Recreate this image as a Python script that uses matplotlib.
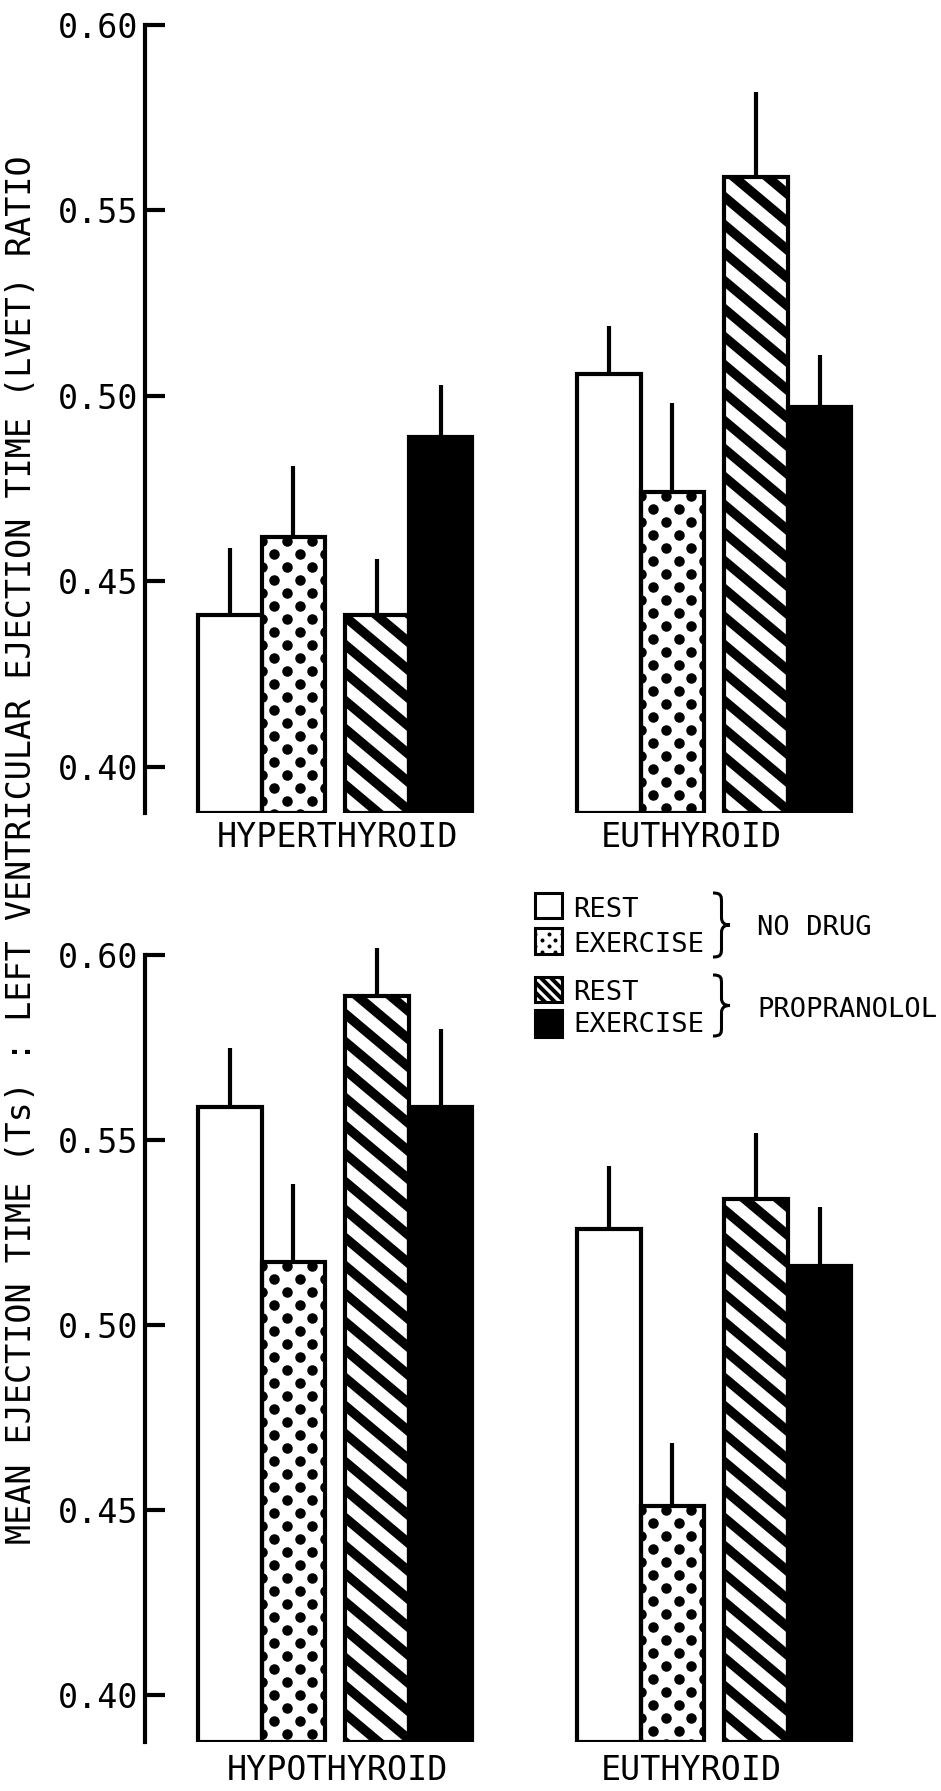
import numpy as np
import matplotlib
matplotlib.use('Agg')
import matplotlib.pyplot as plt
from matplotlib.patches import Rectangle, PathPatch
from matplotlib.path import Path
from matplotlib.lines import Line2D
from matplotlib.transforms import IdentityTransform

# values: mean ratio and upper error (SE)
conditions = ['REST', 'EXERCISE', 'REST', 'EXERCISE']
drugs = ['NO DRUG', 'PROPRANOLOL']

top_groups = ['HYPERTHYROID', 'EUTHYROID']
top_means = [[0.441, 0.462, 0.441, 0.489],
             [0.506, 0.474, 0.559, 0.497]]
top_sem = [[0.018, 0.019, 0.015, 0.014],
           [0.013, 0.024, 0.023, 0.014]]

bottom_groups = ['HYPOTHYROID', 'EUTHYROID']
bottom_means = [[0.559, 0.517, 0.589, 0.559],
                [0.526, 0.451, 0.534, 0.516]]
bottom_sem = [[0.016, 0.021, 0.013, 0.021],
              [0.017, 0.017, 0.018, 0.016]]

yticks = [0.40, 0.45, 0.50, 0.55, 0.60]
ylabel = 'MEAN EJECTION TIME (Ts) : LEFT VENTRICULAR EJECTION TIME (LVET) RATIO'

#############################################

W, H, DPI = 941, 1791, 100
mono = 'DejaVu Sans Mono'
LW = 3.0

face_colors = ['white', 'white', 'white', 'black']
patterns = [None, 'dots', 'stripes', None]
bar_offsets = [0, 1, 2.32, 3.32]
group_starts = [0, 5.97]
label_offsets = [2.2, 1.8]

ppu = 63.5  # pixels per bar width
XMIN = -(198 - 145) / ppu
XMAX = XMIN + 796 / ppu


def clip_to(owner, artist, patch):
    owner.add_artist(artist)
    # path + transform so the clip is not turned into the axes box
    artist.set_clip_path(patch.get_path(), patch.get_transform())


def add_stripes(owner, patch, box, period, thick, angle, z=1.5):
    # diagonal stripes running from upper left to lower right
    x0, y0, x1, y1 = box
    t = np.tan(np.radians(angle))
    xs, ys = [], []
    c = y0 - period
    while c < y1 + t * (x1 - x0) + period:
        xs += [x0 - 5, x1 + 5, np.nan]
        ys += [c + t * 5, c - t * (x1 - x0 + 5), np.nan]
        c += period
    ln = Line2D(xs, ys, color='black', linewidth=thick * 0.72, solid_capstyle='butt',
                transform=IdentityTransform(), zorder=z)
    clip_to(owner, ln, patch)


def add_dots(owner, patch, box, dx, dy, d, start=4, z=1.5):
    x0, y0, x1, y1 = box
    ncol = int(round((x1 - x0) / dx))
    xs, ys = [], []
    y = y1 - start
    j = 0
    while y > y0 - dy:
        for i in range(ncol + 1):
            if (i + j) % 2 == 0:
                xs.append(x0 + i * (x1 - x0) / ncol)
                ys.append(y)
        y -= dy
        j += 1
    ln = Line2D(xs, ys, ls='none', marker='o', ms=d * 0.72, mfc='black',
                mec='none', transform=IdentityTransform(), zorder=z)
    clip_to(owner, ln, patch)


def draw_panel(ax, groups, means, sem, ybot, label_drop):
    ax.set_xlim(XMIN, XMAX)
    ax.set_ylim(ybot, 0.60)
    for g, name in enumerate(groups):
        xs = [group_starts[g] + o for o in bar_offsets]
        heights = [m - ybot for m in means[g]]
        fills = ax.bar(xs, heights, width=1, bottom=ybot, align='edge',
                       color=face_colors, linewidth=0, zorder=1)
        ax.bar(xs, heights, width=1, bottom=ybot, align='edge', fill=False,
               edgecolor='black', linewidth=LW, zorder=2)
        for x, m, patch, pat in zip(xs, means[g], fills.patches, patterns):
            (px0, py0), (px1, py1) = ax.transData.transform([(x, ybot), (x + 1, m)])
            if pat == 'dots':
                add_dots(ax, patch, (px0, py0, px1, py1), ppu / 5, 13, 10.5)
            elif pat == 'stripes':
                add_stripes(ax, patch, (px0, py0, px1, py1), 28, 9.5, 40)
        centers = [x + 0.5 for x in xs]
        eb = ax.errorbar(centers, means[g], yerr=[np.zeros(4), sem[g]], fmt='none',
                         ecolor='black', elinewidth=LW, capsize=0, zorder=2.5)
        for c in eb[2]:
            c.set_clip_on(False)
        ax.annotate(name, xy=(group_starts[g] + label_offsets[g], 0),
                    xycoords=('data', 'axes fraction'),
                    xytext=(0, -label_drop * 0.72), textcoords='offset points',
                    ha='center', va='baseline', fontsize=24, family=mono)

    ax.set_xticks([])
    ax.set_yticks(yticks)
    ax.set_yticklabels(['%.2f' % t for t in yticks], fontsize=24, family=mono)
    ax.tick_params(axis='y', direction='in', length=14.4, width=LW, pad=5)
    for s in ['top', 'right', 'bottom']:
        ax.spines[s].set_visible(False)
    ax.spines['left'].set_linewidth(LW)
    ax.spines['left'].set_bounds(ybot, 0.60)
    ax.patch.set_visible(False)


fig = plt.figure(figsize=(W / DPI, H / DPI), dpi=DPI)

ax1 = fig.add_axes([145 / W, 1 - 813 / H, 796 / W, 788 / H])
draw_panel(ax1, top_groups, top_means, top_sem, 0.3876, 34)

ax2 = fig.add_axes([145 / W, 1 - 1742 / H, 796 / W, 787 / H])
draw_panel(ax2, bottom_groups, bottom_means, bottom_sem, 0.3873, 38)

fig.text(22 / W, 1 - 850 / H, ylabel, rotation=90, ha='center', va='center',
         fontsize=24, family=mono)

# legend, drawn in pixel coordinates (y measured from the top)
box_rows = [(893, 918), (928, 954), (977, 1002), (1010, 1037)]
text_base = [917, 952, 1000, 1032]
for k, (yt, yb) in enumerate(box_rows):
    r = Rectangle((535, H - yb), 27, yb - yt, transform=IdentityTransform(),
                  facecolor=face_colors[k], edgecolor='none', zorder=3)
    fig.add_artist(r)
    box = (535, H - yb, 562, H - yt)
    if patterns[k] == 'dots':
        add_dots(fig, r, box, 6.5, 6, 4, start=6, z=3.5)
    elif patterns[k] == 'stripes':
        add_stripes(fig, r, box, 10, 4, 45, z=3.5)
    fig.add_artist(Rectangle((535, H - yb), 27, yb - yt, transform=IdentityTransform(),
                             fill=False, edgecolor='black', linewidth=2.2, zorder=4))
    fig.text(573 / W, 1 - text_base[k] / H, conditions[k], ha='left', va='baseline',
             fontsize=19.5, family=mono)


def brace(x0, yt, yb, w=17):
    yt, yb = H - yt, H - yb
    h = yt - yb
    ym = (yt + yb) / 2
    xm = x0 + 0.5 * w
    verts = [(x0, yt),
             (xm, yt), (xm, yt - 0.05 * h), (xm, yt - 0.15 * h),
             (xm, ym + 0.12 * h),
             (xm, ym + 0.03 * h), (x0 + 0.7 * w, ym), (x0 + w, ym),
             (x0 + 0.7 * w, ym), (xm, ym - 0.03 * h), (xm, ym - 0.12 * h),
             (xm, yb + 0.15 * h),
             (xm, yb + 0.05 * h), (xm, yb), (x0, yb)]
    codes = [Path.MOVETO] + [Path.CURVE4] * 3 + [Path.LINETO] + [Path.CURVE4] * 6 + \
            [Path.LINETO] + [Path.CURVE4] * 3
    p = PathPatch(Path(verts, codes), facecolor='none', edgecolor='black',
                  linewidth=2.2, transform=IdentityTransform())
    fig.add_artist(p)


brace(713, 893, 957)
brace(713, 975, 1036)
fig.text(757 / W, 1 - 935 / H, drugs[0], ha='left', va='baseline', fontsize=19.5, family=mono)
fig.text(757 / W, 1 - 1017 / H, drugs[1], ha='left', va='baseline', fontsize=19.5, family=mono)

fig.savefig('out.png', dpi=DPI)
